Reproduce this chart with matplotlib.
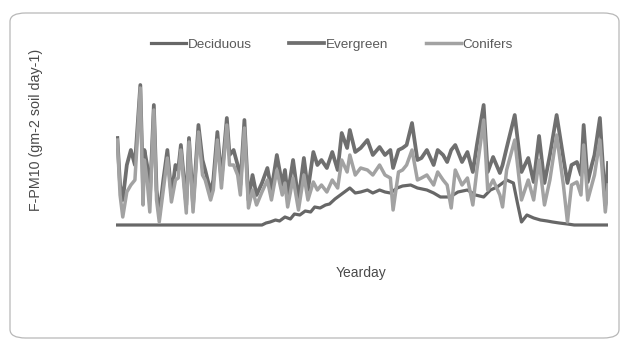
import numpy as np
import matplotlib
matplotlib.use('Agg')
import matplotlib.pyplot as plt
from matplotlib.patches import FancyBboxPatch

plt.rcParams['font.family'] = ['Liberation Sans', 'DejaVu Sans']

# yeardays shared by evergreen and conifers
days = [2, 4, 6, 9, 12, 15, 19, 21, 22, 24, 26, 29, 31, 33, 36, 39, 42, 45, 47, 49,
        53, 55, 58, 62, 65, 67, 71, 73, 76, 79, 83, 85, 88, 91, 93, 96, 99, 102, 105, 109,
        113, 116, 120, 124, 126, 128, 132, 136, 140, 143, 147, 150, 153, 157, 161, 165, 168, 172, 174, 178,
        182, 187, 191, 196, 200, 204, 206, 210, 213, 216, 220, 224, 227, 231, 236, 239, 243, 246, 249, 252,
        257, 261, 265, 268, 273, 276, 280, 285, 287, 290, 296, 301, 306, 310, 314, 318, 322, 327, 332, 335,
        338, 342, 345, 347, 350, 353, 355, 359, 363, 365]

evergreen = [8.7, 4.0, 2.5, 6.0, 7.5, 6.0, 14.0, 3.5, 7.5, 6.0, 2.5, 12.0, 3.5, 1.0, 4.5, 7.5, 3.0, 6.0, 5.5, 8.0,
             2.0, 8.7, 2.0, 10.0, 6.5, 5.5, 3.3, 4.5, 9.3, 4.5, 10.7, 7.0, 7.5, 6.0, 4.0, 10.5, 2.5, 5.0, 3.0, 4.2,
             5.7, 3.5, 7.0, 4.0, 5.5, 3.0, 6.5, 2.5, 6.7, 3.5, 7.3, 6.0, 6.5, 5.7, 7.3, 5.5, 9.2, 7.7, 9.5, 7.3,
             7.7, 8.5, 7.0, 7.8, 7.0, 7.5, 5.7, 7.5, 7.7, 8.0, 10.2, 6.5, 6.7, 7.5, 6.0, 7.5, 7.0, 6.3, 7.5, 8.0,
             6.3, 7.3, 5.3, 8.0, 12.0, 5.3, 6.8, 5.2, 6.0, 7.7, 11.0, 5.3, 6.7, 4.3, 8.9, 4.2, 7.0, 11.0, 6.7, 4.2,
             6.0, 6.3, 5.0, 10.0, 4.3, 6.0, 7.0, 10.7, 2.0, 6.2]

conifers = [8.5, 3.0, 0.8, 3.3, 4.0, 4.5, 13.7, 2.0, 6.5, 4.5, 1.3, 11.5, 2.5, 0.3, 3.5, 6.7, 2.3, 4.5, 4.7, 7.5,
            1.2, 8.3, 1.3, 9.3, 5.0, 4.5, 2.5, 3.5, 8.5, 3.7, 10.0, 6.0, 6.0, 5.0, 3.0, 9.7, 1.7, 3.5, 2.0, 3.3,
            4.5, 2.5, 5.5, 3.0, 4.2, 1.8, 4.7, 1.5, 5.0, 2.5, 4.3, 3.5, 4.0, 3.3, 4.5, 3.7, 6.5, 5.3, 7.0, 5.0,
            5.7, 5.5, 5.0, 6.0, 5.0, 4.7, 1.5, 5.3, 5.5, 6.0, 7.5, 4.5, 4.7, 5.0, 4.0, 5.3, 4.5, 4.0, 1.7, 5.5,
            4.0, 4.7, 2.0, 5.5, 10.5, 3.5, 4.5, 3.0, 1.8, 5.5, 8.5, 2.5, 4.5, 2.5, 6.5, 2.0, 4.5, 9.0, 4.0, 0.3,
            4.0, 4.3, 3.0, 8.0, 2.5, 4.0, 5.0, 8.5, 1.3, 4.0]

dec_days = [1, 109, 112, 115, 119, 122, 126, 130, 133, 137, 141, 145, 148, 152, 156, 159, 163, 167, 170, 174,
            178, 182, 187, 191, 196, 200, 204, 209, 213, 219, 224, 231, 236, 241, 248, 254, 261, 267, 273, 278,
            283, 290, 295, 298, 301, 305, 310, 315, 320, 324, 329, 335, 340, 365]
deciduous = [0, 0, 0.2, 0.3, 0.5, 0.4, 0.8, 0.6, 1.1, 1.0, 1.4, 1.3, 1.8, 1.7, 2.0, 2.1, 2.6, 3.0, 3.3, 3.7,
             3.2, 3.3, 3.5, 3.2, 3.5, 3.3, 3.2, 3.7, 3.9, 4.0, 3.7, 3.5, 3.2, 2.8, 2.8, 3.3, 3.5, 3.0, 2.8, 3.5,
             3.8, 4.5, 4.2, 2.2, 0.3, 1.0, 0.7, 0.5, 0.4, 0.3, 0.2, 0.1, 0.0, 0.0]

fig = plt.figure(figsize=(6.25, 3.45), dpi=100)
ax = fig.add_axes([116/625, 1 - 235/345, 492/625, 160/345])

ax.plot(dec_days, deciduous, color='#676767', lw=2.3, label='Deciduous')
ax.plot(days, evergreen, color='#6f6f6f', lw=2.7, label='Evergreen')
ax.plot(days, conifers, color='#a2a2a2', lw=2.5, label='Conifers')

ax.set_xlim(1, 365)
ax.set_ylim(-1, 15)
ax.axis('off')

fig.legend(loc='center', bbox_to_anchor=(332/625, 1 - 45/345), ncol=3, frameon=False,
           fontsize=9.7, handlelength=2.6, handletextpad=0.1, columnspacing=2.8,
           labelcolor='#5a5a5a')

fig.text(361/625, 1 - 273/345, 'Yearday', ha='center', va='center', fontsize=10, color='#4a4a4a')
fig.text(36/625, 1 - 130/345, 'F-PM10 (gm-2 soil day-1)', rotation=90, ha='center', va='center',
         fontsize=10.3, color='#4a4a4a')

# rounded frame around the chart
frame = FancyBboxPatch((10/625, 1 - 338/345), 609/625, 325/345, transform=fig.transFigure,
                       boxstyle='round,pad=0,rounding_size=0.025', fc='none', ec='#b8b8b8', lw=0.9)
fig.patches.append(frame)

fig.savefig('out.png', dpi=100)
